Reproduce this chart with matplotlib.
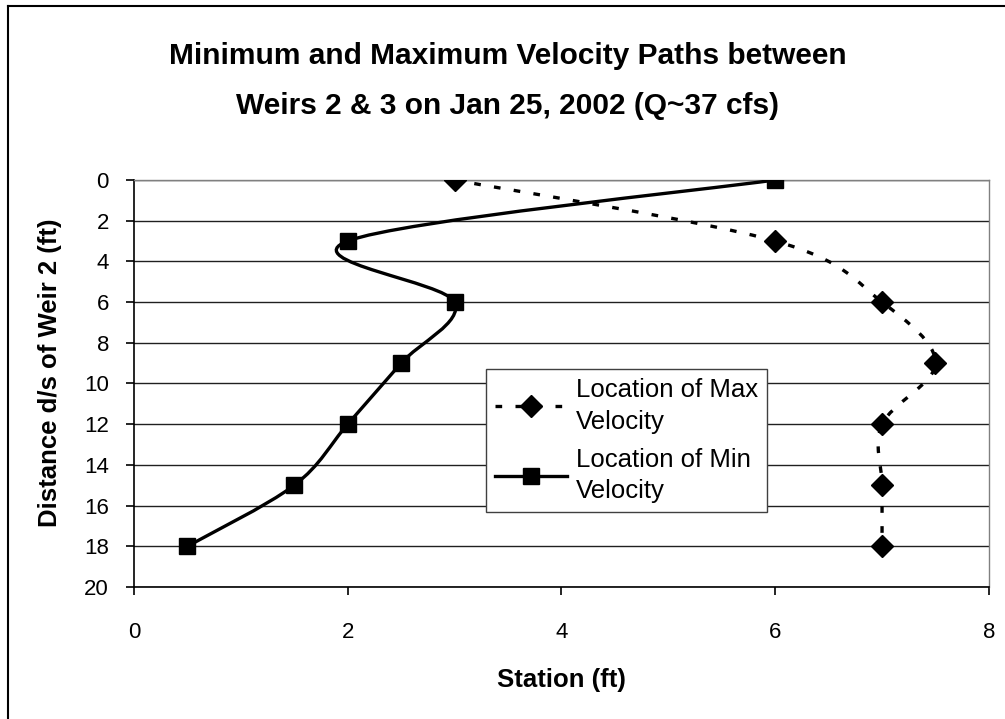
import matplotlib
matplotlib.use("Agg")
import matplotlib.pyplot as plt
import numpy as np
from matplotlib.path import Path
from matplotlib.patches import PathPatch
from matplotlib.lines import Line2D

plt.rcParams['font.family'] = ['Liberation Sans', 'DejaVu Sans']

distance = [0, 3, 6, 9, 12, 15, 18]
max_station = [3, 6, 7, 7.5, 7, 7, 7]
min_station = [6, 2, 3, 2.5, 2, 1.5, 0.5]


def smooth_path(xs, ys):
    # Bezier segments through the points, like a spreadsheet "smoothed line"
    p = np.column_stack([xs, ys]).astype(float)
    n = len(p)
    verts = [p[0]]
    codes = [Path.MOVETO]
    for i in range(n - 1):
        prev = p[i - 1] if i > 0 else p[i]
        nxt = p[i + 2] if i + 2 < n else p[i + 1]
        c1 = p[i] + (p[i + 1] - prev) / 6
        c2 = p[i + 1] - (nxt - p[i]) / 6
        verts += [c1, c2, p[i + 1]]
        codes += [Path.CURVE4] * 3
    return Path(verts, codes)


LW = 2.4
DASH = (0, (2, 4))

fig = plt.figure(figsize=(10.05, 7.19), dpi=100)
ax = fig.add_axes([0.1333, 0.1836, 0.8507, 0.5661])

ax.add_patch(PathPatch(smooth_path(max_station, distance), fill=False,
                       ec='black', lw=LW, ls=DASH, zorder=3))
ax.add_patch(PathPatch(smooth_path(min_station, distance), fill=False,
                       ec='black', lw=LW, zorder=3))
ax.plot(max_station, distance, ls='none', marker='D', ms=11, color='black', zorder=4)
ax.plot(min_station, distance, ls='none', marker='s', ms=12, color='black', zorder=4)

ax.set_xlim(0, 8)
ax.set_ylim(20, 0)
ax.set_xticks(range(0, 9, 2))
ax.set_yticks(range(0, 21, 2))
ax.grid(axis='y', color='#202020', lw=1.0)
ax.set_axisbelow(True)
for s in ['top', 'right']:
    ax.spines[s].set_color('#808080')
    ax.spines[s].set_linewidth(1.0)
ax.spines['left'].set_linewidth(1.2)
ax.spines['bottom'].set_linewidth(1.2)
ax.tick_params(axis='x', direction='out', length=6, width=1.2, pad=19, labelsize=16)
ax.tick_params(axis='y', direction='out', length=6, width=1.2, pad=12, labelsize=16)

ax.set_xlabel('Station (ft)', fontsize=18.5, fontweight='bold', labelpad=18)
ax.set_ylabel('Distance d/s of Weir 2 (ft)', fontsize=18.5, fontweight='bold')
ax.yaxis.set_label_coords(-0.084, 0.526)

fig.text(0.505, 0.922, 'Minimum and Maximum Velocity Paths between',
         ha='center', va='center', fontsize=21.5, fontweight='bold')
fig.text(0.505, 0.853, 'Weirs 2 & 3 on Jan 25, 2002 (Q~37 cfs)',
         ha='center', va='center', fontsize=21.5, fontweight='bold')

handles = [
    Line2D([], [], color='black', lw=LW, ls=DASH, marker='D', ms=11),
    Line2D([], [], color='black', lw=LW, marker='s', ms=12),
]
leg = ax.legend(handles, ['Location of Max\nVelocity', 'Location of Min\nVelocity'],
                loc='upper left', bbox_to_anchor=(0.4117, 0.5356), borderaxespad=0,
                fontsize=18.5, frameon=True, fancybox=False, edgecolor='#404040',
                framealpha=1, handlelength=2.8, borderpad=0.35, labelspacing=0.55,
                handletextpad=0.35)
for t in leg.get_texts():
    t.set_linespacing(1.4)
leg.get_frame().set_linewidth(1.0)

# outer chart frame: only the left and top edges fall inside the picture
fig.add_artist(Line2D([0.0075, 0.0075], [0.0, 0.992], transform=fig.transFigure,
                      color='black', lw=1.5))
fig.add_artist(Line2D([0.0075, 1.0], [0.992, 0.992], transform=fig.transFigure,
                      color='black', lw=1.5))

fig.savefig('out.png', dpi=100)
